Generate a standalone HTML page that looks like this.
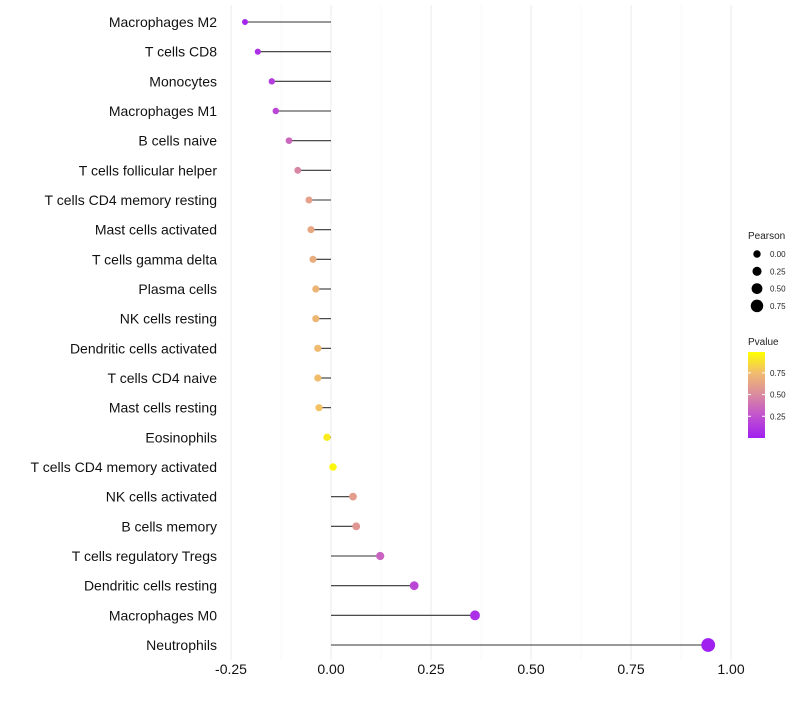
<!DOCTYPE html>
<html><head><meta charset="utf-8"><style>
body{margin:0;background:#fff;font-family:"Liberation Sans",sans-serif}
</style></head><body>
<svg id="c" width="800" height="700" xmlns="http://www.w3.org/2000/svg" font-family="Liberation Sans, sans-serif"></svg>
<script>
const cells=["Macrophages M2","T cells CD8","Monocytes","Macrophages M1","B cells naive","T cells follicular helper","T cells CD4 memory resting","Mast cells activated","T cells gamma delta","Plasma cells","NK cells resting","Dendritic cells activated","T cells CD4 naive","Mast cells resting","Eosinophils","T cells CD4 memory activated","NK cells activated","B cells memory","T cells regulatory  Tregs ","Dendritic cells resting","Macrophages M0","Neutrophils"];
const pearson=[-0.215,-0.183,-0.148,-0.138,-0.105,-0.083,-0.055,-0.05,-0.045,-0.038,-0.038,-0.033,-0.033,-0.03,-0.01,0.005,0.055,0.063,0.123,0.208,0.36,0.943];
const pvalue=[0.03,0.08,0.15,0.2,0.35,0.48,0.62,0.65,0.68,0.72,0.73,0.75,0.76,0.78,0.93,0.97,0.6,0.57,0.33,0.2,0.08,0.0];
const xTicks=[-0.25,0,0.25,0.5,0.75,1.0];
const xTickLabels=["-0.25","0.00","0.25","0.50","0.75","1.00"];
const sizeBreaks=[0,0.25,0.5,0.75];
const pBreaks=[0.25,0.5,0.75];
const svg=document.getElementById('c');const NS="http://www.w3.org/2000/svg";
function mk(t,a,p){const e=document.createElementNS(NS,t);for(const k in a)e.setAttribute(k,a[k]);(p||svg).appendChild(e);return e;}
const X=v=>331+v*400;
const Y=i=>22+i*(623/21);
const R=v=>Math.max(1.8,3.7+3.4*v);
const stops=[[160,32,240],[192,80,208],[218,138,160],[240,186,112],[255,255,0]];
function col(p){p=Math.max(0,Math.min(1,p));const f=p*4,i=Math.min(3,Math.floor(f)),t=f-i;const a=stops[i],b=stops[i+1];return `rgb(${a.map((c,k)=>Math.round(c+(b[k]-c)*t)).join(',')})`;}
for(let v=-0.25;v<=1.0001;v+=0.125){const major=Math.abs(v*4-Math.round(v*4))<1e-6;
const g=mk('line',{x1:X(v),x2:X(v),y1:5,y2:660,stroke:major?'#ebebeb':'#f4f4f4','stroke-width':major?1:0.6});

}
xTicks.forEach((v,i)=>{const t=mk('text',{x:X(v),y:674,'text-anchor':'middle','font-size':14,fill:'#111'});t.textContent=xTickLabels[i];

});
cells.forEach((c,i)=>{const y=Y(i);
const l=mk('text',{x:217,y:y+5,'text-anchor':'end','font-size':14,fill:'#111'});l.textContent=c;


const s=mk('line',{x1:X(0),x2:X(pearson[i]),y1:y,y2:y,stroke:'#333','stroke-width':1.1});


const d=mk('circle',{cx:X(pearson[i]),cy:y,r:R(pearson[i]),fill:col(pvalue[i])});

});
const t1=mk('text',{x:748,y:239,'font-size':10,fill:'#222'});t1.textContent='Pearson';


sizeBreaks.forEach((v,i)=>{const y=254+i*17.3;
const d=mk('circle',{cx:757,cy:y,r:R(v),fill:'#000'});


const t=mk('text',{x:770,y:y+3,'font-size':8,fill:'#222'});t.textContent=v.toFixed(2);

});
const t2=mk('text',{x:748,y:345,'font-size':10,fill:'#222'});t2.textContent='Pvalue';


const defs=mk('defs',{});const lg=mk('linearGradient',{id:'g',x1:0,y1:1,x2:0,y2:0},defs);
stops.forEach((s,i)=>mk('stop',{offset:i/4,'stop-color':`rgb(${s.join(',')})`},lg));
const cbTop=352,cbBot=438,pmin=0,pmax=0.99;
const cb=mk('rect',{x:748,y:cbTop,width:17,height:cbBot-cbTop,fill:'url(#g)'});


pBreaks.forEach(v=>{const y=cbBot-(v-pmin)/(pmax-pmin)*(cbBot-cbTop);
mk('line',{x1:748,x2:751,y1:y,y2:y,stroke:'#fff'});mk('line',{x1:762,x2:765,y1:y,y2:y,stroke:'#fff'});
const t=mk('text',{x:770,y:y+3,'font-size':8,fill:'#222'});t.textContent=v.toFixed(2);

});
</script>
</body></html>
